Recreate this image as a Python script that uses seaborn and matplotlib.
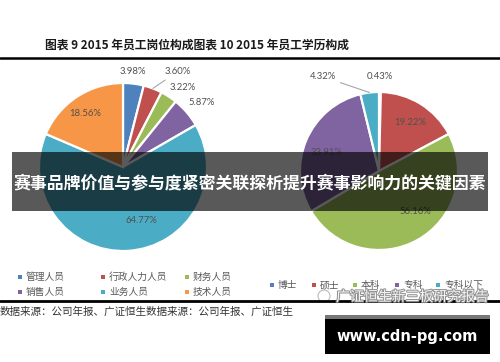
import numpy as np
import seaborn as sns
import matplotlib.pyplot as plt
from matplotlib.patches import Rectangle, Circle
import matplotlib.patheffects as pe

# data
left_cats = ["管理人员", "行政人力人员", "财务人员", "销售人员", "业务人员", "技术人员"]
left_vals = [3.98, 3.60, 3.22, 5.87, 64.77, 18.56]
right_cats = ["博士", "硕士", "本科", "专科", "专科以下"]
right_vals = [0.43, 19.22, 56.16, 33.91, 4.32]

title = "图表 9 2015 年员工岗位构成图表 10 2015 年员工学历构成"
source = "数据来源：公司年报、广证恒生数据来源：公司年报、广证恒生"
banner = "赛事品牌价值与参与度紧密关联探析提升赛事影响力的关键因素"

left_colors = ["#4F81BD", "#C0504D", "#9BBB59", "#8064A2", "#4BACC6", "#F79646"]
right_colors = ["#4F81BD", "#C0504D", "#9BBB59", "#8064A2", "#4BACC6"]

sns.set_theme(style="white")
plt.rcParams['font.family'] = ['Noto Sans CJK SC', 'DejaVu Sans']

W, H = 500, 362
fig = plt.figure(figsize=(W / 100, H / 100), dpi=100)
fig.patch.set_facecolor("white")


def pix_axes(cx, cy, r):
    return fig.add_axes([(cx - r) / W, (H - cy - r) / H, 2 * r / W, 2 * r / H])


def draw_pie(ax, vals, colors, lab_cfg):
    wedges, _ = ax.pie(vals, colors=colors, startangle=90, counterclock=False,
                       wedgeprops=dict(edgecolor="white", linewidth=1.6))
    ax.set_xlim(-1, 1)
    ax.set_ylim(-1, 1)
    ax.set_aspect("auto")
    ax.axis("off")
    for w, v, (d, s, lead) in zip(wedges, vals, lab_cfg):
        mid = np.deg2rad((w.theta1 + w.theta2) / 2)
        ang = mid + np.deg2rad(s)
        pos = (d * np.cos(ang), d * np.sin(ang))
        txt = f"{v:.2f}%"
        if lead:
            ax.annotate(txt, xy=(np.cos(mid), np.sin(mid)), xytext=pos, ha="center", va="center",
                        fontsize=6.8, color="#505050", family="Lato", annotation_clip=False,
                        arrowprops=dict(arrowstyle="-", color="#a6a6a6", lw=0.8, shrinkA=1, shrinkB=0))
        else:
            ax.text(*pos, txt, ha="center", va="center", fontsize=6.8, color="#505050", family="Lato")


axl = pix_axes(123, 167, 84)
draw_pie(axl, left_vals, left_colors,
         [(1.14, 1, False), (1.31, -9, True), (1.18, -4, False), (1.21, -1.5, False),
          (0.67, 16, False), (0.78, 2, False)])

axr = pix_axes(379, 171, 79)
draw_pie(axr, right_vals, right_colors,
         [(1.19, 0, False), (0.73, -0.6, False), (0.69, 12, False), (0.70, 3, False),
          (1.39, 24, True)])

# overlay in pixel coordinates
ov = fig.add_axes([0, 0, 1, 1], zorder=5)
ov.set_xlim(0, W)
ov.set_ylim(H, 0)
ov.axis("off")
ov.patch.set_alpha(0)

ov.text(45, 45, title, fontsize=8.5, fontweight="bold", color="#1a1a1a", va="center", ha="left")
ov.plot([0, W], [57.5, 57.5], color="black", lw=1.8)
ov.plot([0, W], [300.5, 300.5], color="black", lw=2.0)

# legends
leg_gray = "#595959"
left_pos = [(20, 277), (103, 277), (187, 277), (20, 292), (103, 292), (187, 292)]
for (x, y), lab, c in zip(left_pos, left_cats, left_colors):
    ov.add_patch(Rectangle((x - 2, y - 2), 4, 4, color=c, lw=0))
    ov.text(x + 6, y, lab, fontsize=7, color=leg_gray, va="center", ha="left")

right_x = [272, 314, 355, 397, 438]
for x, lab, c in zip(right_x, right_cats, right_colors):
    ov.add_patch(Rectangle((x - 2, 285 - 2), 4, 4, color=c, lw=0))
    ov.text(x + 6, 285, lab, fontsize=7, color=leg_gray, va="center", ha="left")

ov.text(0, 312, source, fontsize=7.6, color="#333333", va="center", ha="left")

# watermark
ov.add_patch(Circle((324, 296), 6, fill=False, ec="#bbbbbb", lw=0.8))
ov.text(336, 297, "广证恒生新三板研究报告", fontsize=10, color="white", va="center", ha="left", alpha=0.9,
        path_effects=[pe.withStroke(linewidth=1.5, foreground="#888888")])

# banner
ov.add_patch(Rectangle((12, 152), 476, 59, facecolor="black", alpha=0.65, lw=0))
ov.text(250, 183, banner, fontsize=12.2, fontweight="bold", color="white", va="center", ha="center")

# site box
ov.add_patch(Rectangle((325, 315), 165, 4, facecolor="#777777", lw=0))
ov.add_patch(Rectangle((325, 319), 165, 35, facecolor="black", lw=0))
ov.text(407.5, 336, "www.cdn-pg.com", fontsize=10.5, fontweight="bold", color="white",
        family="DejaVu Sans", va="center", ha="center")

fig.savefig("out.png", dpi=100)
